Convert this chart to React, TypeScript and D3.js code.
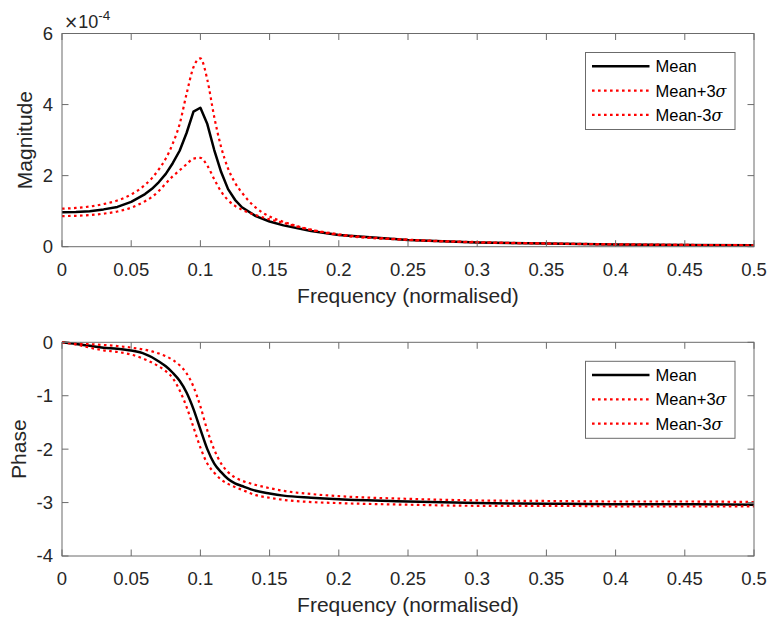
import React from "react";
import * as d3 from "d3";

// ---- data ----
const freq = [0, 0.01, 0.02, 0.03, 0.04, 0.05, 0.06, 0.065, 0.07, 0.075, 0.08, 0.085, 0.09, 0.095, 0.1, 0.105, 0.11, 0.115, 0.12, 0.125, 0.13, 0.14, 0.15, 0.16, 0.18, 0.2, 0.25, 0.3, 0.35, 0.4, 0.45, 0.5];

// magnitude in units of 1e-4
const magMean = [0.97, 0.98, 1.0, 1.05, 1.12, 1.26, 1.48, 1.63, 1.82, 2.05, 2.35, 2.7, 3.2, 3.8, 3.91, 3.45, 2.72, 2.1, 1.62, 1.32, 1.11, 0.86, 0.71, 0.6, 0.44, 0.33, 0.19, 0.12, 0.09, 0.06, 0.05, 0.04];
const magPlus = [1.07, 1.09, 1.13, 1.2, 1.3, 1.47, 1.74, 1.93, 2.18, 2.48, 2.9, 3.45, 4.3, 5.05, 5.3, 4.7, 3.65, 2.8, 2.2, 1.8, 1.52, 1.1, 0.85, 0.7, 0.48, 0.35, 0.2, 0.13, 0.09, 0.07, 0.05, 0.04];
const magMinus = [0.86, 0.87, 0.89, 0.93, 0.99, 1.1, 1.28, 1.4, 1.57, 1.78, 1.98, 2.15, 2.32, 2.48, 2.5, 2.28, 1.9, 1.55, 1.31, 1.15, 1.04, 0.89, 0.77, 0.67, 0.47, 0.33, 0.19, 0.12, 0.09, 0.06, 0.05, 0.04];

const phMean = [0, -0.03, -0.065, -0.1, -0.12, -0.155, -0.22, -0.28, -0.36, -0.45, -0.57, -0.72, -0.94, -1.25, -1.63, -2.0, -2.27, -2.43, -2.56, -2.64, -2.69, -2.78, -2.83, -2.87, -2.91, -2.94, -2.98, -3.01, -3.02, -3.03, -3.03, -3.04];
const phPlus = [0, -0.02, -0.035, -0.05, -0.07, -0.1, -0.14, -0.17, -0.21, -0.26, -0.33, -0.43, -0.58, -0.83, -1.2, -1.65, -2.01, -2.27, -2.43, -2.53, -2.59, -2.67, -2.73, -2.78, -2.84, -2.88, -2.93, -2.96, -2.97, -2.98, -2.98, -2.99];
const phMinus = [0, -0.04, -0.1, -0.15, -0.18, -0.23, -0.32, -0.38, -0.45, -0.54, -0.67, -0.9, -1.21, -1.59, -1.97, -2.27, -2.44, -2.57, -2.65, -2.71, -2.76, -2.86, -2.91, -2.95, -2.99, -3.01, -3.04, -3.06, -3.06, -3.07, -3.07, -3.07];

const xTicks = [0, 0.05, 0.1, 0.15, 0.2, 0.25, 0.3, 0.35, 0.4, 0.45, 0.5];
const xTickLabels = ["0", "0.05", "0.1", "0.15", "0.2", "0.25", "0.3", "0.35", "0.4", "0.45", "0.5"];
const magTicks = [0, 2, 4, 6];
const phTicks = [0, -1, -2, -3, -4];
const legendLabels = ["Mean", "Mean+3", "Mean-3"];

const FONT = "'Liberation Sans', Arial, Helvetica, sans-serif";
const TXT = "#262626";
const AX = "#6b6b6b";

type PanelProps = {
  top: number;
  bottom: number;
  yDomain: [number, number];
  yTicks: number[];
  ylabel: string;
  ylabelX: number;
  series: number[][];
  curves: d3.CurveFactory[];
  exponent?: boolean;
};

const left = 62;
const right = 754;
const styles = [
  { stroke: "#000000", width: 2.5, dash: undefined as string | undefined },
  { stroke: "#ff0000", width: 2.2, dash: "2.6 3.4" },
  { stroke: "#ff0000", width: 2.2, dash: "2.6 3.4" },
];

function Panel({ top, bottom, yDomain, yTicks, ylabel, ylabelX, series, curves, exponent }: PanelProps) {
  const x = d3.scaleLinear().domain([0, 0.5]).range([left, right]);
  const y = d3.scaleLinear().domain(yDomain).range([bottom, top]);
  const tl = 6.5;
  const legTop = top + 19;
  const legLeft = 585.5;
  const legW = 149.5;
  const legH = 77;
  return (
    <g>
      {/* curves */}
      {series.map((s, k) => {
        const line = d3
          .line<number>()
          .x((_, i) => x(freq[i]))
          .y((d) => y(d))
          .curve(curves[k]);
        return (
          <path
            key={k}
            d={line(s) || ""}
            fill="none"
            stroke={styles[k].stroke}
            strokeWidth={styles[k].width}
            strokeDasharray={styles[k].dash}
            strokeLinejoin="round"
          />
        );
      })}
      {/* frame */}
      <rect x={left} y={top} width={right - left} height={bottom - top} fill="none" stroke={AX} strokeWidth={1} />
      {/* x ticks */}
      {xTicks.map((t, i) => (
        <g key={"x" + i}>
          <line x1={x(t)} x2={x(t)} y1={bottom} y2={bottom - tl} stroke={AX} strokeWidth={1} />
          <line x1={x(t)} x2={x(t)} y1={top} y2={top + tl} stroke={AX} strokeWidth={1} />
          <text x={x(t)} y={bottom + 29} textAnchor="middle" fontFamily={FONT} fontSize={18.5} fill={TXT}>
            {xTickLabels[i]}
          </text>
        </g>
      ))}
      {/* y ticks */}
      {yTicks.map((t, i) => (
        <g key={"y" + i}>
          <line x1={left} x2={left + tl} y1={y(t)} y2={y(t)} stroke={AX} strokeWidth={1} />
          <line x1={right} x2={right - tl} y1={y(t)} y2={y(t)} stroke={AX} strokeWidth={1} />
          <text x={left - 9} y={y(t)} dy="0.35em" textAnchor="end" fontFamily={FONT} fontSize={18.5} fill={TXT}>
            {String(t)}
          </text>
        </g>
      ))}
      {exponent && (
        <text x={left + 2} y={top - 5.5} fontFamily={FONT} fontSize={18} fill={TXT}>
          <tspan fontFamily="'DejaVu Sans', sans-serif" fontSize={17}>×</tspan>
          <tspan>10</tspan>
          <tspan dy={-8} fontSize={13.5}>
            -4
          </tspan>
        </text>
      )}
      {/* labels */}
      <text
        x={(left + right) / 2}
        y={bottom + 56}
        textAnchor="middle"
        fontFamily={FONT}
        fontSize={21}
        fill={TXT}
      >
        Frequency (normalised)
      </text>
      <text
        transform={`translate(${ylabelX},${(top + bottom) / 2}) rotate(-90)`}
        textAnchor="middle"
        fontFamily={FONT}
        fontSize={21}
        fill={TXT}
      >
        {ylabel}
      </text>
      {/* legend */}
      <rect x={legLeft} y={legTop} width={legW} height={legH} fill="#ffffff" stroke={AX} strokeWidth={1} />
      {legendLabels.map((lab, k) => {
        const ry = legTop + 13.8 + k * 24.3;
        return (
          <g key={"l" + k}>
            <line
              x1={legLeft + 6.5}
              x2={legLeft + 64}
              y1={ry}
              y2={ry}
              stroke={styles[k].stroke}
              strokeWidth={styles[k].width}
              strokeDasharray={styles[k].dash}
            />
            <text x={legLeft + 70} y={ry} dy="0.36em" fontFamily={FONT} fontSize={16.5} fill="#000">
              {lab}
              {k > 0 && (
                <tspan fontFamily="'DejaVu Serif', 'Liberation Serif', serif" fontStyle="italic" fontSize={16}>
                  σ
                </tspan>
              )}
            </text>
          </g>
        );
      })}
    </g>
  );
}

export default function App() {
  return (
    <svg
      width={769}
      height={618}
      style={{ position: "absolute", left: 0, top: 0, background: "#fff" }}
    >
      <rect width={769} height={618} fill="#fff" />
      <Panel
        top={33.5}
        bottom={246.7}
        yDomain={[0, 6]}
        yTicks={magTicks}
        ylabel="Magnitude"
        ylabelX={32}
        series={[magMean, magPlus, magMinus]}
        curves={[d3.curveLinear, d3.curveMonotoneX, d3.curveMonotoneX]}
        exponent
      />
      <Panel
        top={342.3}
        bottom={556}
        yDomain={[-4, 0]}
        yTicks={phTicks}
        ylabel="Phase"
        ylabelX={26}
        series={[phMean, phPlus, phMinus]}
        curves={[d3.curveMonotoneX, d3.curveMonotoneX, d3.curveMonotoneX]}
      />
    </svg>
  );
}
